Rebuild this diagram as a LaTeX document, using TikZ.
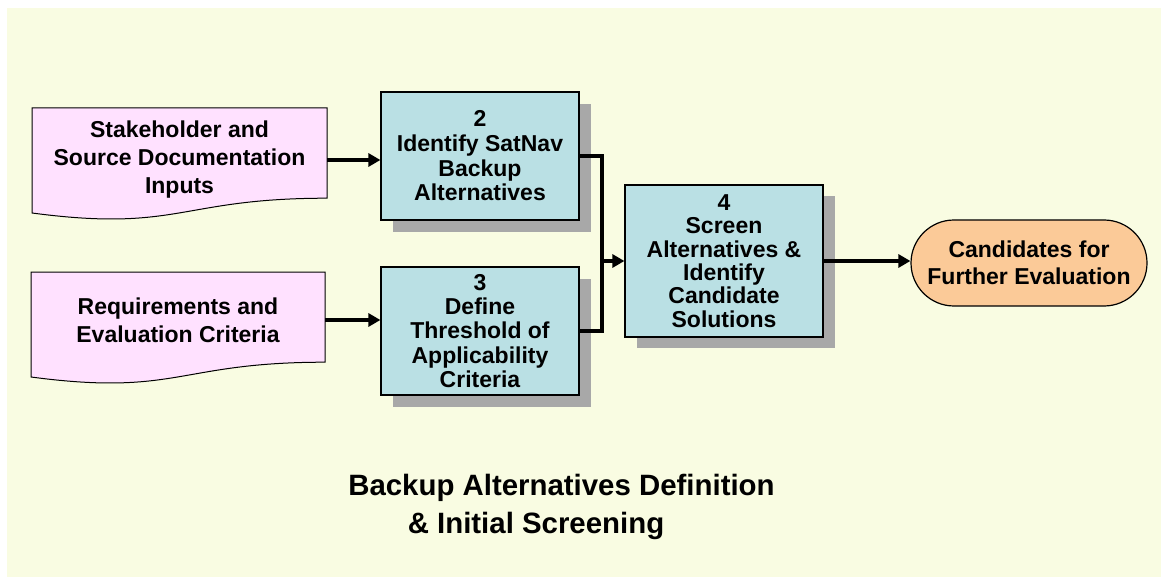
\documentclass[tikz,border=0pt]{standalone}
\usepackage{fontspec}
\setmainfont{Liberation Sans}
\usetikzlibrary{arrows.meta,calc}
\definecolor{bgyellow}{RGB}{249,252,226}
\definecolor{docpink}{RGB}{255,225,255}
\definecolor{procblue}{RGB}{186,224,228}
\definecolor{termpeach}{RGB}{251,202,152}
\definecolor{shadowgray}{RGB}{168,168,168}
\tikzset{
  boxfont/.style={font=\fontsize{23}{#1}\selectfont\bfseries},
  doctext/.style={draw=none, minimum width=295, minimum height=104, inner sep=0, align=center, boxfont=28},
  docshape/.style={draw=black, line width=1pt, fill=docpink},
  procbox/.style={draw=black, line width=1.2pt, fill=procblue, inner sep=0, align=center, minimum width=198},
  procshadow/.style={draw=none, fill=shadowgray, inner sep=0, minimum width=198},
  termbox/.style={draw=black, line width=1.2pt, fill=termpeach, rounded corners=43, inner sep=0, align=center, minimum width=236, minimum height=86, boxfont=27},
  conn/.style={line width=4pt, line join=miter},
  arr/.style={conn, -{Triangle[length=12pt,width=13pt]}},
  titletext/.style={font=\fontsize{29.4}{38}\selectfont\bfseries, inner sep=0, anchor=base}
}
\begin{document}
\begin{tikzpicture}[x=1pt,y=-1pt]
\useasboundingbox (0,0) rectangle (1161,577);
\fill[white] (0,0) rectangle (1161,577);
\fill[bgyellow] (7,8) rectangle (1161,577);

% document shapes
\path[docshape] (32,108) -- (327,108) -- (327,198.2) .. controls (179.5,198.2) and (179.5,232.5) .. (32,213) -- cycle;
\node[doctext] (d1) at (179.5,160) {Stakeholder and\\Source Documentation\\Inputs};
\path[docshape] (31,272) -- (325,272) -- (325,362.2) .. controls (178,362.2) and (178,396.5) .. (31,377) -- cycle;
\node[doctext, minimum width=294, minimum height=96] (d2) at (178,320) {Requirements and\\Evaluation Criteria};

% process boxes with shadows
\node[procshadow, minimum height=128] (b2s) at (492,168) {};
\node[procbox, minimum height=128, boxfont=24.7] (b2) at (480,156) {2\\Identify SatNav\\Backup\\Alternatives};
\node[procshadow, minimum height=128] (b3s) at (492,343) {};
\node[procbox, minimum height=128, boxfont=24.25] (b3) at (480,331) {3\\Define\\Threshold of\\Applicability\\Criteria};
\node[procshadow, minimum height=152] (b4s) at (736,272) {};
\node[procbox, minimum height=152, boxfont=23.4] (b4) at (724,261) {4\\Screen\\Alternatives \&\\Identify\\Candidate\\Solutions};

% terminal
\node[termbox] (t) at (1029,263) {Candidates for\\Further Evaluation};

% connectors
\draw[arr] (d1.east) -- (d1.east -| b2.west);
\draw[arr] (d2.east) -- (d2.east -| b3.west);
\coordinate (j) at (602,261);
\draw[conn] (b2.east) -| (j) |- (b3.east);
\draw[arr] (j) -- (b4.west);
\draw[arr] (b4.east) -- (b4.east -| t.west);

% title
\node[titletext] (title1) at (561.5,495) {Backup Alternatives Definition};
\node[titletext] (title2) at (536,533) {\& Initial Screening};
\end{tikzpicture}
\end{document}
